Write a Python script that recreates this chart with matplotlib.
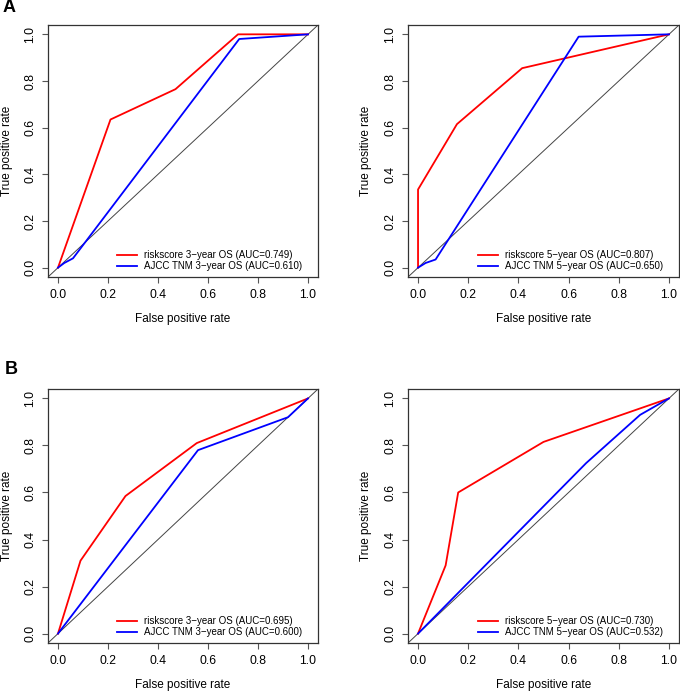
import matplotlib
matplotlib.use("Agg")
import matplotlib.pyplot as plt

plt.rcParams["font.family"] = ["Liberation Sans", "DejaVu Sans"]

# === DATA ===
# A, 3-year
a3_risk_fpr = [0.0, 0.21, 0.47, 0.72, 1.0]
a3_risk_tpr = [0.0, 0.635, 0.765, 1.0, 1.0]
a3_tnm_fpr = [0.0, 0.025, 0.06, 0.725, 1.0]
a3_tnm_tpr = [0.0, 0.02, 0.04, 0.98, 1.0]
# A, 5-year
a5_risk_fpr = [0.0, 0.0, 0.155, 0.415, 1.0]
a5_risk_tpr = [0.0, 0.335, 0.615, 0.855, 1.0]
a5_tnm_fpr = [0.0, 0.03, 0.07, 0.64, 1.0]
a5_tnm_tpr = [0.0, 0.02, 0.035, 0.99, 1.0]
# B, 3-year
b3_risk_fpr = [0.0, 0.09, 0.27, 0.555, 1.0]
b3_risk_tpr = [0.0, 0.31, 0.585, 0.81, 1.0]
b3_tnm_fpr = [0.0, 0.56, 0.92, 1.0]
b3_tnm_tpr = [0.0, 0.78, 0.92, 1.0]
# B, 5-year
b5_risk_fpr = [0.0, 0.11, 0.16, 0.50, 1.0]
b5_risk_tpr = [0.0, 0.29, 0.60, 0.815, 1.0]
b5_tnm_fpr = [0.0, 0.67, 0.885, 1.0]
b5_tnm_tpr = [0.0, 0.725, 0.93, 1.0]

labels = [
    ("riskscore 3\u2212year OS (AUC=0.749)", "AJCC TNM 3\u2212year OS (AUC=0.610)"),
    ("riskscore 5\u2212year OS (AUC=0.807)", "AJCC TNM 5\u2212year OS (AUC=0.650)"),
    ("riskscore 3\u2212year OS (AUC=0.695)", "AJCC TNM 3\u2212year OS (AUC=0.600)"),
    ("riskscore 5\u2212year OS (AUC=0.730)", "AJCC TNM 5\u2212year OS (AUC=0.532)"),
]
curves = [
    (a3_risk_fpr, a3_risk_tpr, a3_tnm_fpr, a3_tnm_tpr),
    (a5_risk_fpr, a5_risk_tpr, a5_tnm_fpr, a5_tnm_tpr),
    (b3_risk_fpr, b3_risk_tpr, b3_tnm_fpr, b3_tnm_tpr),
    (b5_risk_fpr, b5_risk_tpr, b5_tnm_fpr, b5_tnm_tpr),
]

W, H = 680, 694
fig = plt.figure(figsize=(W / 100, H / 100), dpi=100)

# axes boxes in pixels: left, top, right, bottom
boxes = [(48, 25, 318, 277), (408, 25, 679, 277),
         (48, 389, 318, 643), (408, 389, 679, 643)]

ticks = [0.0, 0.2, 0.4, 0.6, 0.8, 1.0]
for (l, t, r, b), (rf, rt, tf, tt), (lab1, lab2) in zip(boxes, curves, labels):
    ax = fig.add_axes([l / W, 1 - b / H, (r - l) / W, (b - t) / H])
    ax.plot([-0.04, 1.04], [-0.04, 1.04], color="#444444", lw=0.7)
    ax.plot(rf, rt, color="red", lw=1.3, label=lab1)
    ax.plot(tf, tt, color="blue", lw=1.3, label=lab2)
    ax.set_xlim(-0.04, 1.04)
    ax.set_ylim(-0.04, 1.04)
    ax.set_xticks(ticks)
    ax.set_yticks(ticks)
    ax.set_xticklabels([f"{v:.1f}" for v in ticks])
    ax.set_yticklabels([f"{v:.1f}" for v in ticks], rotation=90, va="center")
    ax.tick_params(direction="out", length=4.3, width=0.8, color="#555555",
                   labelsize=8.8, pad=4)
    for s in ax.spines.values():
        s.set_color("#333333")
        s.set_linewidth(0.9)
    ax.set_xlabel("False positive rate", fontsize=8.5)
    ax.set_ylabel("True positive rate", fontsize=8.5)
    ax.xaxis.set_label_coords(0.5, -0.143)
    ax.yaxis.set_label_coords(-0.131, 0.5)
    ax.legend(loc="lower right", frameon=False, fontsize=7.0,
              handlelength=2.06, handletextpad=0.72, labelspacing=0.1,
              borderpad=0.0, borderaxespad=0.0,
              bbox_to_anchor=(1 - 16 / (r - l), 6 / (b - t)))

fig.text(9 / W, 1 - 8 / H, "A", fontsize=13, fontweight="bold", ha="center", va="center")
fig.text(11 / W, 1 - 369 / H, "B", fontsize=13, fontweight="bold", ha="center", va="center")

fig.savefig("out.png", dpi=100)
